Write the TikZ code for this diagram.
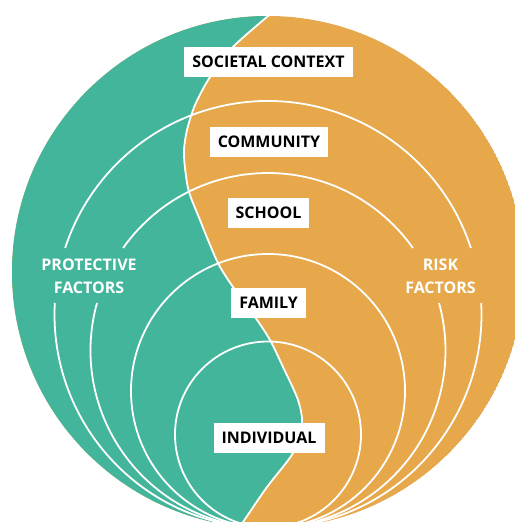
\documentclass[tikz,border=0pt]{standalone}
\usepackage{fontspec}
\setmainfont{Open Sans}
\definecolor{tealfill}{HTML}{42B59A}
\definecolor{orangefill}{HTML}{E6A84B}
\begin{document}
\begin{tikzpicture}[x=1pt,y=-1pt,
  ring/.style={white, line width=1.8pt},
  levelbox/.style={fill=white, text=black, font=\bfseries\fontsize{16}{19}\selectfont,
    inner xsep=8pt, inner ysep=0pt, minimum height=30pt},
  sidelabel/.style={text=white, font=\bfseries\fontsize{16}{23}\selectfont, align=center, inner sep=0pt}]
\useasboundingbox (0,0) rectangle (514,522);
\def\scurve{(284,2) (268,16) (233,47) (210,77) (195,105) (187,130) (184,150) (185,168) (189,192) (200,220) (208,240) (219,265) (233,287) (255,317) (270,340) (283,367) (298,400) (302,425) (293,453) (267,487) (243,522) (230,540)}
\begin{scope}
  \clip (268,272) circle[radius=256pt];
  \fill[orangefill] (268,272) circle[radius=256pt];
  \fill[tealfill] plot[smooth] coordinates {\scurve}
    -- (-10,540) -- (-10,-10) -- (284,-10) -- cycle;
  \draw[ring] plot[smooth] coordinates {\scurve};
\end{scope}
% community circle (centre 268,314.5; r 213.5), gaps for side labels
\draw[ring] (268,314.5) ++(18.15:213.5pt) arc[start angle=18.15, end angle=161.85, radius=213.5pt];
\draw[ring] (268,314.5) ++(176.91:213.5pt) arc[start angle=176.91, end angle=363.09, radius=213.5pt];
% school circle (centre 268,350.5; r 177.5)
\draw[ring] (268,350.5) ++(35.27:177.5pt) arc[start angle=35.27, end angle=144.73, radius=177.5pt];
\draw[ring] (268,350.5) ++(164.48:177.5pt) arc[start angle=164.48, end angle=375.52, radius=177.5pt];
% family and individual circles
\draw[ring] (268,391) circle[radius=137pt];
\draw[ring] (268,434.5) circle[radius=93pt];
% labels
\node[levelbox] (societal) at (268.5,62) {SOCIETAL CONTEXT};
\node[levelbox] (community) at (269,142) {COMMUNITY};
\node[levelbox] (school) at (268.5,213) {SCHOOL};
\node[levelbox] (family) at (268.5,302.5) {FAMILY};
\node[levelbox] (individual) at (269,438) {INDIVIDUAL};
\node[sidelabel] (protective) at (89,276) {PROTECTIVE\\FACTORS};
\node[sidelabel] (risk) at (440.5,276) {RISK\\FACTORS};
\end{tikzpicture}
\end{document}
